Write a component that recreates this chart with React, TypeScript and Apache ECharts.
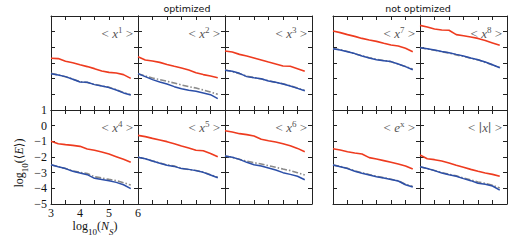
import React, { useEffect, useRef } from "react";
import * as echarts from "echarts";

const X_VALUES = [3, 3.25, 3.5, 3.75, 4, 4.25, 4.5, 4.75, 5, 5.25, 5.5, 5.75];
const X_TICK_LABELS = ["3", "4", "5", "6"];
const Y_TICK_LABELS = ["1", "0", "−1", "−2", "−3", "−4", "−5"];

const PANEL_NAMES = ["1", "2", "3", "7", "8", "4", "5", "6", "ex", "abs"];
const GROUP_TITLES = ["optimized", "not optimized"];

// <x^1>
const red_x1 = [-1.70, -1.72, -1.89, -1.98, -2.11, -2.23, -2.36, -2.51, -2.60, -2.64, -2.74, -2.98];
const blue_x1 = [-2.68, -2.77, -2.87, -3.04, -3.21, -3.23, -3.38, -3.47, -3.57, -3.72, -3.91, -4.04];
const gray_x1 = [-2.66, -2.76, -2.88, -3.02, -3.19, -3.24, -3.36, -3.46, -3.55, -3.70, -3.88, -4.02];
// <x^2>
const red_x2 = [-1.60, -1.81, -1.87, -1.96, -2.09, -2.21, -2.32, -2.45, -2.62, -2.74, -2.83, -2.94];
const blue_x2 = [-2.68, -2.87, -3.06, -3.21, -3.34, -3.51, -3.64, -3.74, -3.81, -3.91, -4.02, -4.28];
const gray_x2 = [-2.68, -2.83, -2.96, -3.06, -3.17, -3.28, -3.40, -3.51, -3.60, -3.72, -3.85, -4.00];
// <x^3>
const red_x3 = [-1.23, -1.30, -1.45, -1.55, -1.68, -1.81, -1.94, -2.06, -2.19, -2.21, -2.36, -2.53];
const blue_x3 = [-2.47, -2.53, -2.66, -2.87, -2.94, -3.00, -3.15, -3.23, -3.34, -3.47, -3.62, -3.77];
const gray_x3 = [-2.45, -2.55, -2.68, -2.84, -2.93, -3.02, -3.13, -3.24, -3.32, -3.45, -3.60, -3.76];
// <x^7>
const red_x7 = [0.04, -0.06, -0.19, -0.30, -0.43, -0.53, -0.62, -0.74, -0.85, -0.91, -1.06, -1.28];
const blue_x7 = [-1.09, -1.17, -1.28, -1.40, -1.55, -1.68, -1.79, -1.85, -1.91, -2.06, -2.23, -2.43];
const gray_x7 = [-1.09, -1.15, -1.27, -1.41, -1.54, -1.66, -1.77, -1.84, -1.92, -2.07, -2.22, -2.40];
// <x^8>
const red_x8 = [0.40, 0.30, 0.17, 0.11, 0.09, -0.19, -0.26, -0.34, -0.43, -0.57, -0.72, -0.87];
const blue_x8 = [-1.02, -1.09, -1.17, -1.26, -1.34, -1.45, -1.55, -1.68, -1.79, -1.94, -2.11, -2.30];
const gray_x8 = [-1.02, -1.10, -1.19, -1.28, -1.36, -1.48, -1.58, -1.70, -1.80, -1.96, -2.12, -2.29];
// <x^4>
const red_x4 = [-1.00, -1.15, -1.21, -1.26, -1.32, -1.49, -1.57, -1.68, -1.81, -1.98, -2.15, -2.34];
const blue_x4 = [-2.49, -2.62, -2.74, -2.91, -3.02, -3.13, -3.36, -3.43, -3.51, -3.62, -3.77, -4.02];
const gray_x4 = [-2.49, -2.62, -2.74, -2.89, -2.98, -3.06, -3.26, -3.34, -3.43, -3.51, -3.64, -3.79];
// <x^5>
const red_x5 = [-0.62, -0.70, -0.81, -0.91, -1.02, -1.15, -1.30, -1.43, -1.57, -1.60, -1.77, -1.98];
const blue_x5 = [-2.02, -2.11, -2.26, -2.40, -2.53, -2.60, -2.74, -2.79, -2.87, -2.98, -3.15, -3.32];
const gray_x5 = [-2.02, -2.12, -2.25, -2.38, -2.51, -2.58, -2.72, -2.80, -2.86, -2.97, -3.13, -3.30];
// <x^6>
const red_x6 = [-0.32, -0.40, -0.51, -0.57, -0.66, -0.87, -0.96, -1.04, -1.15, -1.28, -1.45, -1.66];
const blue_x6 = [-1.94, -2.02, -2.15, -2.34, -2.49, -2.57, -2.70, -2.83, -3.00, -3.11, -3.23, -3.45];
const gray_x6 = [-1.94, -2.02, -2.15, -2.26, -2.36, -2.45, -2.55, -2.66, -2.77, -2.87, -3.00, -3.15];
// <e^x>
const red_ex = [-1.47, -1.55, -1.66, -1.74, -1.81, -2.04, -2.13, -2.23, -2.34, -2.45, -2.57, -2.77];
const blue_ex = [-2.51, -2.62, -2.74, -2.91, -3.04, -3.15, -3.26, -3.34, -3.43, -3.53, -3.77, -3.91];
const gray_ex = [-2.51, -2.60, -2.72, -2.88, -3.00, -3.12, -3.23, -3.32, -3.42, -3.52, -3.74, -3.88];
// <|x|>
const red_abs = [-1.87, -2.11, -2.17, -2.26, -2.38, -2.53, -2.66, -2.79, -2.91, -3.02, -3.11, -3.23];
const blue_abs = [-2.62, -2.74, -2.87, -3.02, -3.13, -3.23, -3.38, -3.51, -3.68, -3.74, -3.85, -4.11];
const gray_abs = [-2.62, -2.74, -2.86, -3.00, -3.10, -3.20, -3.34, -3.46, -3.60, -3.68, -3.80, -3.98];

const SERIES_BY_PANEL: number[][][] = [
  [red_x1, blue_x1, gray_x1],
  [red_x2, blue_x2, gray_x2],
  [red_x3, blue_x3, gray_x3],
  [red_x7, blue_x7, gray_x7],
  [red_x8, blue_x8, gray_x8],
  [red_x4, blue_x4, gray_x4],
  [red_x5, blue_x5, gray_x5],
  [red_x6, blue_x6, gray_x6],
  [red_ex, blue_ex, gray_ex],
  [red_abs, blue_abs, gray_abs],
];

const PANEL_LEFTS = [51, 138, 225, 333, 420];
const PANEL_TOPS = [16, 110];
const PANEL_W = 87;
const PANEL_H = 94;

const RED = "#ee3b1f";
const BLUE = "#2c4fa8";
const GRAY = "#8a8a8a";
const AXIS = "#222";
const LABEL_GRAY = "#555";
const SERIF = "'Liberation Serif', 'DejaVu Serif', serif";

function panelLabel(name: string) {
  if (name === "ex") return "{a|< }{i|e}{s|x}{a| >}";
  if (name === "abs") return "{a|< }{b|\u2223}{i|x}{b|\u2223}{a| >}";
  return "{a|< }{i|x}{s|" + name + "}{a| >}";
}

export default function App() {
  const ref = useRef<HTMLDivElement>(null);
  useEffect(() => {
    if (!ref.current) return;
    const chart = echarts.init(ref.current, undefined, { renderer: "svg" });
    const grids: any[] = [];
    const xAxes: any[] = [];
    const yAxes: any[] = [];
    const series: any[] = [];
    const graphics: any[] = [];
    for (let p = 0; p < 10; p++) {
      const row = p < 5 ? 0 : 1;
      const col = p % 5;
      const left = PANEL_LEFTS[col];
      const top = PANEL_TOPS[row];
      grids.push({ left, top, width: PANEL_W, height: PANEL_H });
      const isLabeled = p === 5;
      const common = {
        gridIndex: p,
        type: "value",
        min: 3,
        max: 6,
        interval: 0.5,
        axisLine: { show: true, onZero: false, lineStyle: { color: AXIS, width: 1 } },
        axisTick: { show: true, inside: true, length: 4, lineStyle: { color: AXIS, width: 1 } },
        splitLine: { show: false },
      };
      xAxes.push({
        ...common,
        position: "bottom",
        axisLabel: {
          show: isLabeled,
          margin: 3,
          fontFamily: SERIF,
          fontSize: 12,
          color: "#111",
          formatter: (v: number) => {
            const idx = X_TICK_LABELS.indexOf(String(v));
            return idx >= 0 ? X_TICK_LABELS[idx] : "";
          },
        },
      });
      xAxes.push({ ...common, position: "top", axisLabel: { show: false } });
      const ycommon = {
        gridIndex: p,
        type: "value",
        min: -5,
        max: 1,
        interval: 1,
        axisLine: { show: true, onZero: false, lineStyle: { color: AXIS, width: 1 } },
        axisTick: { show: true, inside: true, length: 4, lineStyle: { color: AXIS, width: 1 } },
        splitLine: { show: false },
      };
      yAxes.push({
        ...ycommon,
        position: "left",
        axisLabel: {
          show: isLabeled,
          margin: 4,
          fontFamily: SERIF,
          fontSize: 12,
          color: "#111",
          formatter: (v: number) => Y_TICK_LABELS[Math.round(1 - v)],
        },
      });
      yAxes.push({ ...ycommon, position: "right", axisLabel: { show: false } });
      const [r, b, g] = SERIES_BY_PANEL[p];
      const mk = (arr: number[]) => X_VALUES.map((x, k) => [x, arr[k]]);
      series.push({
        type: "line",
        xAxisIndex: 2 * p,
        yAxisIndex: 2 * p,
        data: mk(r),
        showSymbol: false,
        lineStyle: { color: RED, width: 1.6 },
      });
      series.push({
        type: "line",
        xAxisIndex: 2 * p,
        yAxisIndex: 2 * p,
        data: mk(g),
        showSymbol: false,
        lineStyle: { color: GRAY, width: 1.6, type: [6, 2, 1.5, 2] },
      });
      series.push({
        type: "line",
        xAxisIndex: 2 * p,
        yAxisIndex: 2 * p,
        data: mk(b),
        showSymbol: false,
        lineStyle: { color: BLUE, width: 1.5 },
      });
      graphics.push({
        type: "text",
        x: left + PANEL_W - 5,
        y: top + 16,
        style: {
          text: panelLabel(PANEL_NAMES[p]),
          align: "right",
          verticalAlign: "middle",
          fill: LABEL_GRAY,
          rich: {
            a: { fontFamily: SERIF, fontSize: 13, lineHeight: 15, fill: LABEL_GRAY, verticalAlign: "bottom" },
            b: { fontFamily: "'DejaVu Serif', serif", fontSize: 12, lineHeight: 15, fill: LABEL_GRAY, verticalAlign: "bottom" },
            i: { fontFamily: SERIF, fontSize: 13, fontStyle: "italic", lineHeight: 15, fill: LABEL_GRAY, verticalAlign: "bottom" },
            s: { fontFamily: SERIF, fontSize: 9, lineHeight: 9, padding: [0, 0, 5, 0], fill: LABEL_GRAY, verticalAlign: "bottom" },
          },
        },
      });
    }
    graphics.push({
      type: "text",
      x: 187,
      y: 8,
      style: { text: GROUP_TITLES[0], align: "center", verticalAlign: "middle", fontFamily: "'DejaVu Sans', sans-serif", fontSize: 9.5, fill: "#111" },
    });
    graphics.push({
      type: "text",
      x: 418,
      y: 8,
      style: { text: GROUP_TITLES[1], align: "center", verticalAlign: "middle", fontFamily: "'DejaVu Sans', sans-serif", fontSize: 9.5, fill: "#111" },
    });
    const axisRich = {
      m: { fontFamily: SERIF, fontSize: 12, lineHeight: 16, fill: "#111", verticalAlign: "top" },
      i: { fontFamily: SERIF, fontSize: 12, fontStyle: "italic", lineHeight: 16, fill: "#111", verticalAlign: "top" },
      s: { fontFamily: SERIF, fontSize: 9, lineHeight: 9, fill: "#111", verticalAlign: "bottom" },
      t: { fontFamily: SERIF, fontSize: 9, fontStyle: "italic", lineHeight: 9, fill: "#111", verticalAlign: "bottom" },
    };
    graphics.push({
      type: "text",
      x: 95,
      y: 228,
      style: {
        text: "{m|log}{s|10}{m|(}{i|N}{t|S}{m|)}",
        align: "center",
        verticalAlign: "middle",
        rich: axisRich,
      },
    });
    graphics.push({
      type: "text",
      x: 21,
      y: 163,
      rotation: Math.PI / 2,
      style: {
        text: "{m|log}{s|10}{m|(⟨}{i|E}{m|⟩)}",
        align: "center",
        verticalAlign: "middle",
        rich: axisRich,
      },
    });
    chart.setOption({
      animation: false,
      backgroundColor: "#fff",
      grid: grids,
      xAxis: xAxes,
      yAxis: yAxes,
      series,
      graphic: graphics,
    });
    return () => chart.dispose();
  }, []);
  return (
    <div
      ref={ref}
      style={{ position: "fixed", left: 0, top: 0, width: 512, height: 241 }}
    />
  );
}
